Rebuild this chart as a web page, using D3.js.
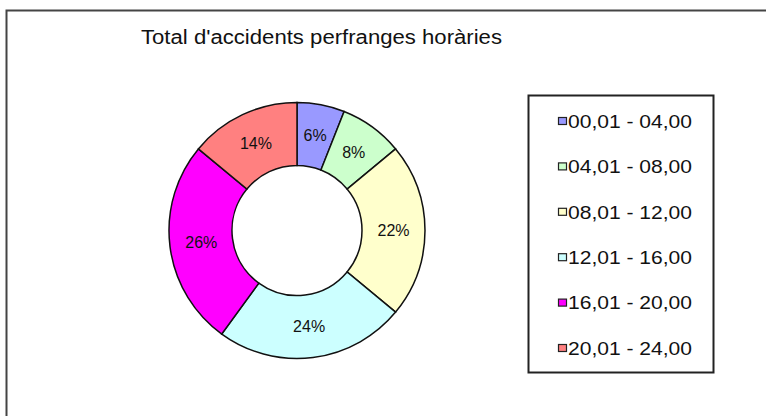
<!DOCTYPE html>
<html>
<head>
<meta charset="utf-8">
<script src="https://cdn.jsdelivr.net/npm/d3@7"></script>
<style>
  html, body { margin: 0; padding: 0; background: #fff; }
  svg { display: block; }
  text { font-family: "Liberation Sans", Arial, sans-serif; }
</style>
</head>
<body>
<svg id="chart" width="766" height="416"></svg>
<script>
const title = "Total d'accidents perfranges horàries";
const categories = ["00,01 - 04,00", "04,01 - 08,00", "08,01 - 12,00", "12,01 - 16,00", "16,01 - 20,00", "20,01 - 24,00"];
const values = [6, 8, 22, 24, 26, 14];
const colors = ["#9999FF", "#CCFFCC", "#FFFFCC", "#CCFFFF", "#FF00FF", "#FF8080"];

const svg = d3.select("#chart");
const W = 766, H = 416;

svg.append("rect").attr("x", 0).attr("y", 0).attr("width", W).attr("height", H).attr("fill", "#fff");

// outer frame (extends beyond right and bottom)
svg.append("rect")
  .attr("x", 6.5).attr("y", 10.5)
  .attr("width", W + 10).attr("height", H + 10)
  .attr("fill", "none").attr("stroke", "#444").attr("stroke-width", 2);

// title
svg.append("text")
  .attr("x", 141).attr("y", 44)
  .attr("font-size", 20)
  .attr("textLength", 361).attr("lengthAdjust", "spacingAndGlyphs")
  .attr("fill", "#111")
  .text(title);

// donut
const cx = 297, cy = 230.5, rOuter = 128, rInner = 65;
const pie = d3.pie().sort(null).value(d => d)(values);
const arc = d3.arc().innerRadius(rInner).outerRadius(rOuter);
const labelArc = d3.arc().innerRadius((rInner + rOuter) / 2).outerRadius((rInner + rOuter) / 2);
const color = d3.scaleOrdinal().domain(categories).range(colors);
const g = svg.append("g").attr("transform", `translate(${cx},${cy})`);

g.selectAll("path.slice").data(pie).join("path")
  .attr("class", "slice")
  .attr("d", arc)
  .attr("fill", (d, i) => color(categories[i]))
  .attr("stroke", "#111").attr("stroke-width", 1.5);

const total = d3.sum(values);
g.selectAll("text.lbl").data(pie).join("text")
  .attr("class", "lbl")
  .attr("transform", d => { const c = labelArc.centroid(d); return `translate(${c[0]},${c[1]})`; })
  .attr("text-anchor", "middle")
  .attr("dy", "0.36em")
  .attr("font-size", 16)
  .attr("fill", "#111")
  .text(d => Math.round(d.data / total * 100) + "%");

// legend
const lx = 528, ly = 95, lw = 185, lh = 277;
svg.append("rect").attr("x", lx + 0.5).attr("y", ly + 0.5).attr("width", lw).attr("height", lh)
  .attr("fill", "#fff").attr("stroke", "#222").attr("stroke-width", 2);

const ly0 = d3.scalePoint().domain(categories).range([121, 348]);
const leg = svg.append("g").selectAll("g").data(categories).join("g")
  .attr("transform", d => `translate(558,${ly0(d)})`);
leg.append("rect").attr("x", 0.5).attr("y", -3.5).attr("width", 8).attr("height", 7)
  .attr("fill", d => color(d)).attr("stroke", "#222").attr("stroke-width", 1.2);
leg.append("text").attr("x", 10).attr("dy", "0.36em")
  .attr("font-size", 19).attr("fill", "#111")
  .attr("textLength", 124).attr("lengthAdjust", "spacingAndGlyphs")
  .text(d => d);
</script>
</body>
</html>
